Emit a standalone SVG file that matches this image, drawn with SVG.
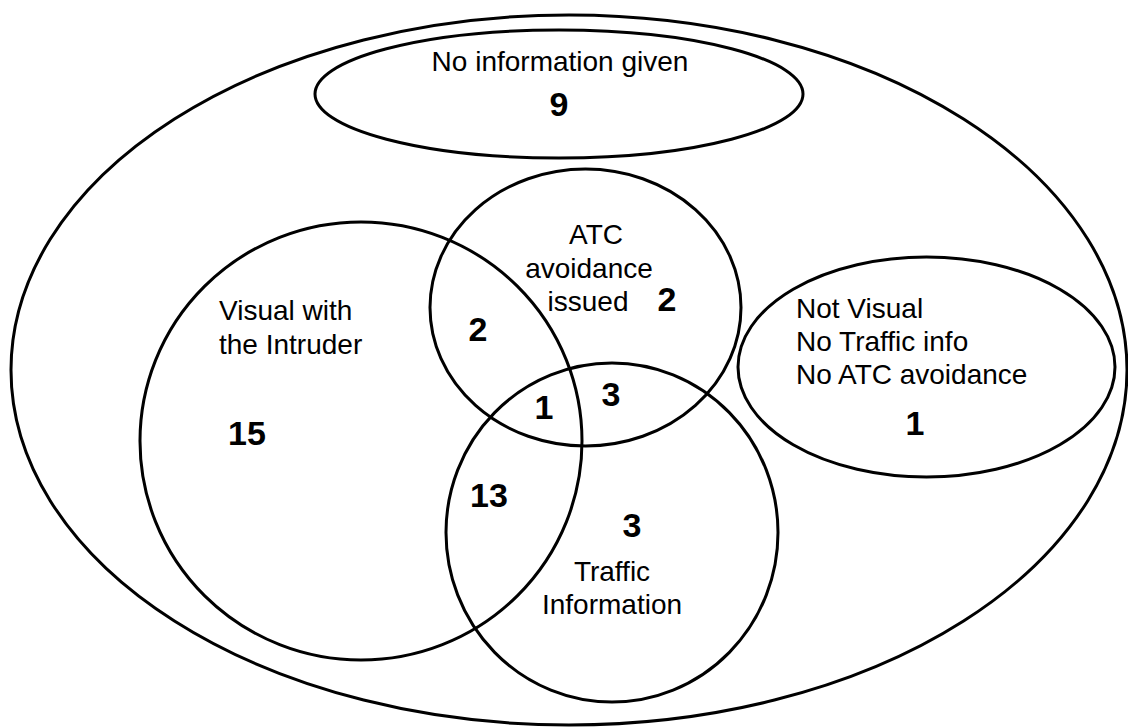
<svg xmlns="http://www.w3.org/2000/svg" width="1128" height="728" viewBox="0 0 1128 728">
<style>
.sh{fill:none;stroke:#000;stroke-width:3}
.t{font-family:"Liberation Sans",Arial,sans-serif;font-size:28px;fill:#000}
.n{font-family:"Liberation Sans",Arial,sans-serif;font-size:34px;font-weight:bold;fill:#000;text-anchor:middle}
.m{text-anchor:middle}
</style>
<rect width="1128" height="728" fill="#fff"/>
<g id="all">
<ellipse class="sh" cx="569" cy="370" rx="558" ry="355"/>
</g>
<g id="no-info">
<ellipse class="sh" cx="559" cy="94" rx="244" ry="64"/>
<text class="t m" x="560" y="71">No information given</text>
<text class="n" x="559" y="116">9</text>
</g>
<g id="visual">
<ellipse class="sh" cx="361" cy="441" rx="221" ry="219"/>
<text class="t" x="219" y="320">Visual with</text>
<text class="t" x="219" y="354">the Intruder</text>
<text class="n" x="247" y="445">15</text>
</g>
<g id="atc">
<ellipse class="sh" cx="585.5" cy="307.5" rx="155.5" ry="138.5"/>
<text class="t m" x="596" y="244">ATC</text>
<text class="t m" x="589" y="278">avoidance</text>
<text class="t m" x="588" y="311">issued</text>
<text class="n" x="667" y="311">2</text>
</g>
<g id="traffic">
<ellipse class="sh" cx="612" cy="532.5" rx="166" ry="169.5"/>
<text class="n" x="632" y="537">3</text>
<text class="t m" x="612" y="581">Traffic</text>
<text class="t m" x="612" y="614">Information</text>
</g>
<g id="overlaps">
<text class="n" x="478" y="341">2</text>
<text class="n" x="544" y="419">1</text>
<text class="n" x="611" y="406">3</text>
<text class="n" x="489" y="507">13</text>
</g>
<g id="not-visual">
<ellipse class="sh" cx="926.5" cy="367" rx="188.5" ry="110"/>
<text class="t" x="796" y="318">Not Visual</text>
<text class="t" x="796" y="351">No Traffic info</text>
<text class="t" x="796" y="384">No ATC avoidance</text>
<text class="n" x="915" y="435">1</text>
</g>
<g id="connectors"></g>
</svg>
